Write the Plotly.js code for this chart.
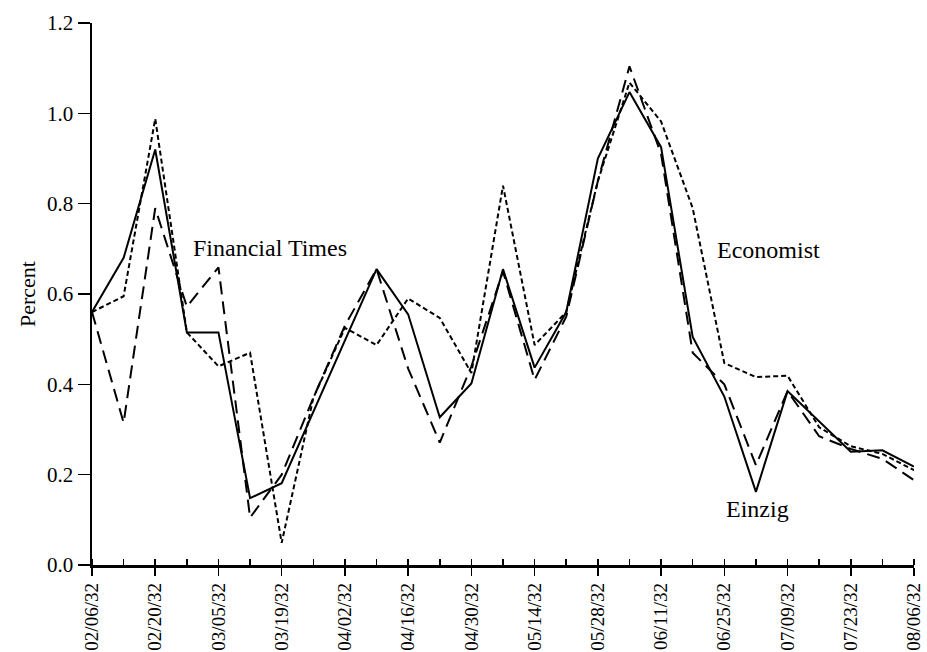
<!DOCTYPE html>
<html>
<head>
<meta charset="utf-8">
<script src="https://cdn.plot.ly/plotly-3.0.1.min.js"></script>
<style>
  html, body { margin: 0; padding: 0; background: #fff; }
  #chart { width: 927px; height: 652px; }
</style>
</head>
<body>
<div id="chart"></div>
<script>
// Weekly observations, Saturdays from 6 Feb 1932 to 6 Aug 1932
const weeks = [
  '1932-02-06','1932-02-13','1932-02-20','1932-02-27','1932-03-05','1932-03-12',
  '1932-03-19','1932-03-26','1932-04-02','1932-04-09','1932-04-16','1932-04-23',
  '1932-04-30','1932-05-07','1932-05-14','1932-05-21','1932-05-28','1932-06-04',
  '1932-06-11','1932-06-18','1932-06-25','1932-07-02','1932-07-09','1932-07-16',
  '1932-07-23','1932-07-30','1932-08-06'
];

// Percent, by source
const einzig = [
  0.56, 0.68, 0.92, 0.515, 0.515, 0.148, 0.181, 0.34, 0.50, 0.655, 0.555, 0.327,
  0.402, 0.655, 0.437, 0.56, 0.90, 1.047, 0.925, 0.505, 0.373, 0.162, 0.385, 0.318,
  0.251, 0.254, 0.218
];
const financialTimes = [
  0.56, 0.315, 0.79, 0.572, 0.659, 0.105, 0.20, 0.37, 0.53, 0.655, 0.435, 0.271,
  0.44, 0.65, 0.41, 0.55, 0.85, 1.104, 0.91, 0.47, 0.40, 0.221, 0.385, 0.285,
  0.257, 0.235, 0.188
];
const economist = [
  0.56, 0.595, 0.988, 0.515, 0.44, 0.47, 0.049, 0.37, 0.525, 0.487, 0.59, 0.547,
  0.425, 0.84, 0.487, 0.56, 0.85, 1.068, 0.982, 0.79, 0.447, 0.416, 0.419, 0.305,
  0.263, 0.246, 0.21
];

const seriesNames = ['Einzig', 'Financial Times', 'Economist'];
const dateTicks = ['1932-02-06','1932-02-20','1932-03-05','1932-03-19','1932-04-02',
  '1932-04-16','1932-04-30','1932-05-14','1932-05-28','1932-06-11','1932-06-25',
  '1932-07-09','1932-07-23','1932-08-06'];
const dateLabels = ['02/06/32','02/20/32','03/05/32','03/19/32','04/02/32','04/16/32',
  '04/30/32','05/14/32','05/28/32','06/11/32','06/25/32','07/09/32','07/23/32','08/06/32'];
const yTicks = [0, 0.2, 0.4, 0.6, 0.8, 1.0, 1.2];
const yLabels = ['0.0','0.2','0.4','0.6','0.8','1.0','1.2'];

const serif = 'Liberation Serif';

const traces = [
  { x: weeks, y: einzig, name: seriesNames[0], mode: 'lines',
    line: { color: '#000', width: 2, dash: 'solid' } },
  { x: weeks, y: financialTimes, name: seriesNames[1], mode: 'lines',
    line: { color: '#000', width: 2, dash: '13px,7px' } },
  { x: weeks, y: economist, name: seriesNames[2], mode: 'lines',
    line: { color: '#000', width: 2, dash: '5px,3px' } }
];

const labelFont = { family: serif, size: 24, color: '#000' };

const layout = {
  width: 927, height: 652,
  margin: { l: 92, r: 13, t: 23, b: 87 },
  paper_bgcolor: '#fff', plot_bgcolor: '#fff',
  showlegend: false,
  font: { family: serif, size: 20, color: '#000' },
  xaxis: {
    type: 'date',
    range: ['1932-02-06', '1932-08-06'],
    tickmode: 'array', tickvals: dateTicks, ticktext: dateLabels,
    tickangle: -90,
    tickfont: { family: serif, size: 19, color: '#000' },
    ticks: 'outside', ticklen: 8, tickwidth: 1.5, tickcolor: '#000',
    minor: { dtick: 7 * 24 * 3600 * 1000, tick0: '1932-02-13', ticks: 'inside',
             ticklen: 6, tickwidth: 1.5, tickcolor: '#000', showgrid: false },
    showline: true, linecolor: '#000', linewidth: 2.5,
    showgrid: false, zeroline: false, fixedrange: true
  },
  yaxis: {
    range: [0, 1.2],
    tickmode: 'array', tickvals: yTicks, ticktext: yLabels,
    tickfont: { family: serif, size: 21, color: '#000' },
    ticks: 'outside', ticklen: 12, tickwidth: 1.5, tickcolor: '#000',
    showline: true, linecolor: '#000', linewidth: 2.5,
    showgrid: false, zeroline: false, fixedrange: true,
    title: { text: 'Percent', font: { family: serif, size: 22, color: '#000' }, standoff: 6 }
  },
  annotations: [
    { x: '1932-02-28', y: 0.702, text: 'Financial Times', showarrow: false,
      xanchor: 'left', yanchor: 'middle', font: labelFont },
    { x: '1932-06-23', y: 0.698, text: 'Economist', showarrow: false,
      xanchor: 'left', yanchor: 'middle', font: labelFont },
    { x: '1932-06-25', y: 0.124, text: 'Einzig', showarrow: false,
      xanchor: 'left', yanchor: 'middle', font: labelFont }
  ]
};

Plotly.newPlot('chart', traces, layout, { displayModeBar: false, staticPlot: true });
</script>
</body>
</html>
